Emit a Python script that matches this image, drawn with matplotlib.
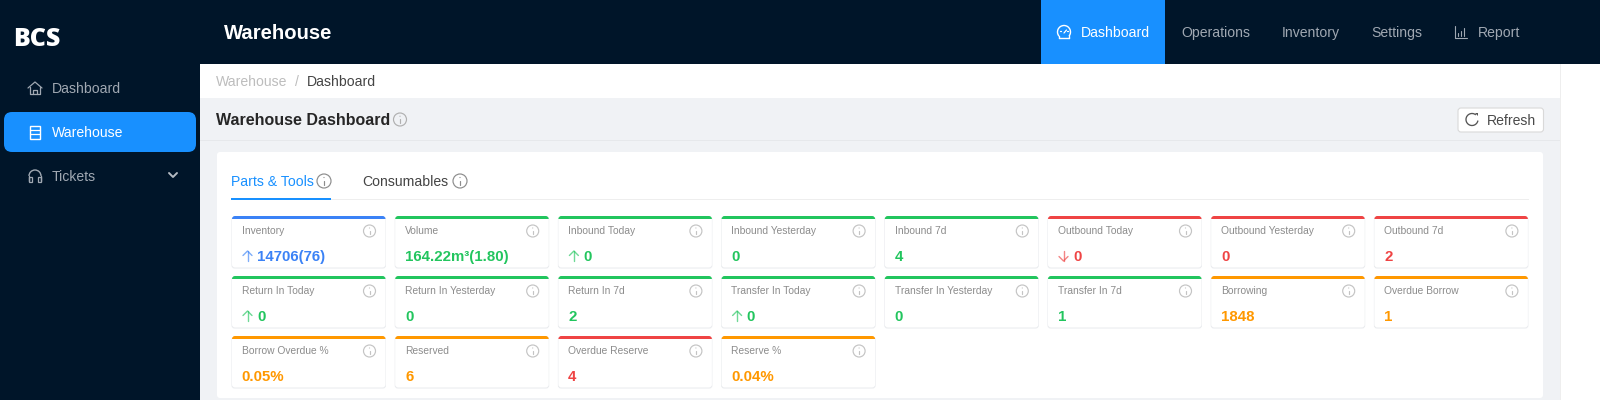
import matplotlib
matplotlib.use("Agg")
import matplotlib.pyplot as plt
from matplotlib.patches import Rectangle, FancyBboxPatch, Circle, Arc, Polygon

plt.rcParams['font.family'] = ['Liberation Sans', 'DejaVu Sans']

# data
card_labels = ['Inventory', 'Volume', 'Inbound Today', 'Inbound Yesterday', 'Inbound 7d',
               'Outbound Today', 'Outbound Yesterday', 'Outbound 7d',
               'Return In Today', 'Return In Yesterday', 'Return In 7d', 'Transfer In Today',
               'Transfer In Yesterday', 'Transfer In 7d', 'Borrowing', 'Overdue Borrow',
               'Borrow Overdue %', 'Reserved', 'Overdue Reserve', 'Reserve %']
card_values = ['14706(76)', '164.22m³(1.80)', '0', '0', '4',
               '0', '0', '2',
               '0', '0', '2', '0',
               '0', '1', '1848', '1',
               '0.05%', '6', '4', '0.04%']
card_kinds = ['blue', 'green', 'green', 'green', 'green',
              'red', 'red', 'red',
              'green', 'green', 'green', 'green',
              'green', 'green', 'orange', 'orange',
              'orange', 'orange', 'red', 'orange']
card_trends = ['up', None, 'up', None, None,
               'down', None, None,
               'up', None, None, 'up',
               None, None, None, None,
               None, None, None, None]
side_items = ['Dashboard', 'Warehouse', 'Tickets']
nav_items = ['Dashboard', 'Operations', 'Inventory', 'Settings', 'Report']

DARK = '#001529'
BLUE = '#1890ff'
BG = '#f0f2f5'
KIND_COLORS = {'blue': '#3b82f6', 'green': '#22c55e', 'red': '#ef4444', 'orange': '#ff9800'}

fig = plt.figure(figsize=(16, 4), dpi=100)
ax = fig.add_axes([0, 0, 1, 1])
ax.set_xlim(0, 1600)
ax.set_ylim(400, 0)
ax.axis('off')


def px(size):
    return size * 0.72


def rect(x0, y0, x1, y1, color, z=1):
    ax.add_patch(Rectangle((x0, y0), x1 - x0, y1 - y0, fc=color, ec='none', zorder=z))


def rounded(x0, y0, x1, y1, r, fc, ec='none', lw=0, z=2):
    p = FancyBboxPatch((x0, y0), x1 - x0, y1 - y0, boxstyle=f'round,pad=0,rounding_size={r}',
                       fc=fc, ec=ec, lw=lw, zorder=z)
    ax.add_patch(p)
    return p


def label(x, y, s, size, color, weight='normal', **kw):
    ax.text(x, y, s, fontsize=px(size), color=color, fontweight=weight, va='baseline', zorder=6, **kw)


def line(xs, ys, color, lw=1.0, z=5, alpha=1.0):
    ax.plot(xs, ys, color=color, lw=lw, zorder=z, alpha=alpha,
            solid_capstyle='round', solid_joinstyle='round')


def info_icon(cx, cy, r, color):
    ax.add_patch(Circle((cx, cy), r, fc='none', ec=color, lw=0.85, zorder=5))
    line([cx, cx], [cy - 0.5, cy + r * 0.55], color, 0.85)
    ax.add_patch(Circle((cx, cy - r * 0.5), 0.6, fc=color, ec='none', zorder=5))


def house_icon(cx, cy, color):
    line([cx - 7, cx, cx + 7], [cy, cy - 6, cy], color, 0.9)
    line([cx - 5, cx - 5, cx + 5, cx + 5], [cy - 1, cy + 6, cy + 6, cy - 1], color, 0.9)
    line([cx - 2, cx - 2, cx + 2, cx + 2], [cy + 6, cy + 2, cy + 2, cy + 6], color, 0.9)


def server_icon(cx, cy, color):
    ax.add_patch(Rectangle((cx - 5, cy - 6.5), 10, 13, fc='none', ec=color, lw=1.0, zorder=5))
    for dy in (-2.2, 2.2):
        line([cx - 5, cx + 5], [cy + dy, cy + dy], color, 0.9)
    for dy in (-4.3, 0, 4.3):
        line([cx - 3.2, cx - 3], [cy + dy, cy + dy], color, 0.8)


def headphone_icon(cx, cy, color):
    ax.add_patch(Arc((cx, cy), 12, 12, theta1=180, theta2=360, ec=color, lw=1.0, zorder=5))
    line([cx - 6, cx - 6], [cy, cy + 5], color, 1.0)
    line([cx + 6, cx + 6], [cy, cy + 5], color, 1.0)
    ax.add_patch(Rectangle((cx - 6, cy + 1), 3, 5, fc='none', ec=color, lw=0.9, zorder=5))
    ax.add_patch(Rectangle((cx + 3, cy + 1), 3, 5, fc='none', ec=color, lw=0.9, zorder=5))


def gauge_icon(cx, cy, color):
    ax.add_patch(Arc((cx, cy), 13, 13, theta1=-220, theta2=40, ec=color, lw=1.0, zorder=5))
    line([cx - 5, cx + 5], [cy + 5.5, cy + 5.5], color, 1.0)
    line([cx - 5, cx - 5], [cy + 4, cy + 5.5], color, 1.0)
    line([cx + 5, cx + 5], [cy + 4, cy + 5.5], color, 1.0)
    line([cx, cx + 2.5], [cy + 1, cy - 2], color, 0.9)
    line([cx - 4, cx - 3], [cy - 1, cy - 1], color, 0.9)
    line([cx + 3, cx + 4], [cy - 1, cy - 1], color, 0.9)


def bars_icon(cx, cy, color):
    line([cx - 6, cx - 6, cx + 6], [cy - 6, cy + 5.5, cy + 5.5], color, 0.8)
    for dx, h in zip((-3, 0, 3), (3, 5, 8)):
        line([cx + dx, cx + dx], [cy + 3.5, cy + 3.5 - h], color, 0.8)


def refresh_icon(cx, cy, r, color):
    ax.add_patch(Arc((cx, cy), 2 * r, 2 * r, theta1=10, theta2=310, ec=color, lw=0.95, zorder=5))
    ax.add_patch(Polygon([(cx + 2.6, cy - 6.6), (cx + 6.2, cy - 6.6), (cx + 6.2, cy - 3.4)],
                         fc=color, ec='none', zorder=5))


def trend_arrow(cx, cy, direction, color):
    sign = -1 if direction == 'up' else 1
    line([cx, cx], [cy - sign * 5, cy + sign * 5], color, 1.0, alpha=0.65)
    line([cx - 4.5, cx, cx + 4.5], [cy + sign * 0.5, cy + sign * 5, cy + sign * 0.5], color, 1.0, alpha=0.65)


# page frame
rect(0, 0, 1600, 400, 'white', 0)
rect(200, 98, 1560, 400, BG, 0.5)
rect(200, 140, 1560, 141, '#e6e8eb', 0.6)
rect(1560, 64, 1561, 400, '#eeeeee', 0.6)
rect(0, 0, 1600, 64, DARK, 1)
rect(0, 0, 200, 400, DARK, 1)

# sidebar
ax.text(13.5, 45.5, 'BCS', fontsize=px(25), color='white', fontweight='heavy', family='Open Sans',
        va='baseline', zorder=6)
rounded(4, 112, 196, 152, 8, BLUE)
side_colors = ['#a0a8b2', 'white', '#a0a8b2']
for name, base, col in zip(side_items, (93, 137, 181), side_colors):
    label(52, base, name, 14, col)
house_icon(35, 88, side_colors[0])
server_icon(35, 132, 'white')
headphone_icon(35, 176, side_colors[2])
line([169, 173, 177], [173, 177, 173], '#b5bbc2', 1.4)

# top bar
label(224, 39, 'Warehouse', 20.3, 'white', 'bold')
rect(1041, 0, 1165, 64, BLUE, 2)
for name, x in zip(nav_items, (1081, 1181, 1282, 1371, 1478)):
    label(x, 37, name, 14, 'white' if x == 1081 else '#a0a8b2')
gauge_icon(1064, 32, 'white')
bars_icon(1461, 32, '#a0a8b2')

# breadcrumb and page header
label(216, 86.5, 'Warehouse', 14, '#bdbdbd')
label(295, 86.5, '/', 14, '#bdbdbd')
label(307, 86.5, 'Dashboard', 14, '#444444')
label(216, 125, 'Warehouse Dashboard', 16, '#262626', 'bold')
info_icon(400, 119.5, 6.5, '#b0b0b0')
rounded(1458, 108, 1543.5, 132, 3, 'white', '#d9d9d9', 0.8)
refresh_icon(1472, 119.5, 6, '#555555')
label(1487, 125, 'Refresh', 14, '#4a4a4a')

# main card and tabs
rounded(217, 152, 1543, 398, 3, 'white', z=1.5)
label(231, 186, 'Parts & Tools', 14, BLUE)
info_icon(324, 181, 7, '#8c8c8c')
label(362.5, 186, 'Consumables', 14, '#444444')
info_icon(460, 181, 7, '#8c8c8c')
rect(231, 199, 1529, 200, '#eeeeee', 2)
rect(231, 198, 331, 200, BLUE, 3)

# metric cards
for i, (name, value, kind, trend) in enumerate(zip(card_labels, card_values, card_kinds, card_trends)):
    col = KIND_COLORS[kind]
    left = 232 + (i % 8) * 163.2
    top = 216 + (i // 8) * 60
    right = left + 153.5
    bottom = top + 51.5
    rounded(left - 0.5, top + 0.5, right + 0.5, bottom + 1, 3, '#e9ebee', z=2)
    rounded(left, top, right, bottom, 3, 'white', z=2.1)
    stripe = rounded(left, top, right, bottom, 3, col, z=2.2)
    stripe.set_clip_path(Rectangle((left - 1, top - 1), right - left + 2, 4, transform=ax.transData))
    label(left + 9.8, top + 18, name, 10.2, '#8c8c8c')
    info_icon(left + 137.5, top + 15, 6, '#c4c4c4')
    x = left + 9.8
    if trend:
        trend_arrow(left + 15.5, top + 40, trend, col)
        x = left + 25
    label(x, top + 45.2, value, 15, col, 'bold')

fig.savefig('out.png', dpi=100)
plt.close(fig)
